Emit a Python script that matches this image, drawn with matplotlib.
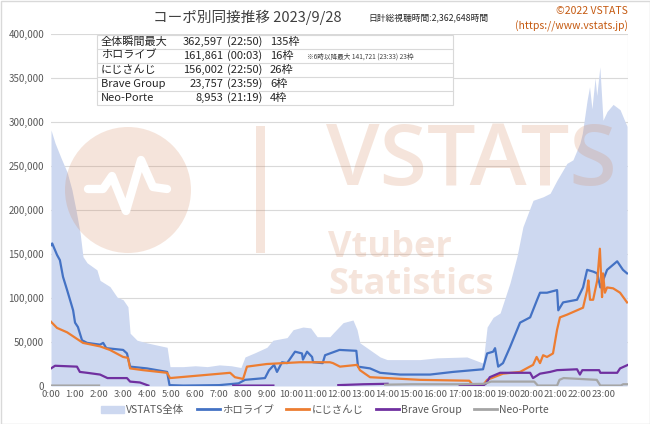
import numpy as np
import matplotlib
matplotlib.use('Agg')
import matplotlib.pyplot as plt
from matplotlib.patches import Circle, Rectangle, Patch
from matplotlib.lines import Line2D
from matplotlib.ticker import FuncFormatter

plt.rcParams['font.family'] = ['Noto Sans CJK JP', 'DejaVu Sans']

nan = np.nan

# VSTATS total (hours, thousands of viewers)
total_t = [0.00, 0.17, 0.42, 0.67, 0.87, 1.04, 1.21, 1.33, 1.50, 1.91, 2.04, 2.45, 2.75, 3.00, 3.20,
           3.29, 3.58, 3.99, 4.83, 4.95, 5.50, 6.00, 6.50, 7.00, 7.50, 7.90, 8.07, 8.50, 8.98, 9.23,
           9.82, 10.07, 10.48, 10.80, 11.07, 11.60, 11.73, 12.15, 12.56, 12.73, 12.85, 13.27, 13.69,
           13.98, 15.35, 16.06, 17.30, 17.97, 18.14, 18.39, 18.68, 19.09, 19.38, 19.63, 20.05, 20.47,
           20.76, 21.05, 21.46, 21.71, 22.00, 22.10, 22.30, 22.40, 22.50, 22.63, 22.70, 22.83, 22.96,
           23.13, 23.38, 23.67, 23.96]
total_v = [291, 276, 259, 243, 223, 200, 174, 147, 140, 132, 120, 113, 101, 98, 90,
           60, 52, 49, 44, 22, 22, 23, 22, 24, 23, 21, 33, 38, 44, 52,
           55, 64, 67, 66, 56, 56, 60, 72, 75, 64, 49, 41, 33,
           30, 30, 32, 33, 26, 67, 78, 83, 117, 147, 181, 211, 215,
           219, 234, 253, 257, 276, 287, 325, 340, 315, 350, 330, 362.6, 302,
           312, 320, 314, 295]

holo_t = [0.00, 0.05, 0.25, 0.37, 0.50, 0.67, 0.79, 0.92, 1.00, 1.12, 1.29, 1.50, 2.04, 2.17, 2.30,
          3.00, 3.16, 3.29, 3.99, 4.41, 4.83, 4.93, 5.50, 7.00, 7.80, 8.07, 8.90, 9.07, 9.28, 9.40,
          9.61, 9.82, 10.15, 10.44, 10.48, 10.65, 10.86, 10.90, 11.30, 11.40, 11.60, 12.00, 12.70,
          12.77, 13.27, 13.69, 14.52, 15.77, 16.72, 17.97, 18.14, 18.39, 18.47, 18.60, 18.80, 19.09,
          19.51, 19.93, 20.22, 20.34, 20.63, 21.05, 21.10, 21.30, 21.88, 22.13, 22.30, 22.55, 22.72,
          22.85, 23.13, 23.55, 23.79, 23.96]
holo_v = [160, 162, 149, 143, 124, 109, 98, 86, 72, 67, 52, 49, 47, 49, 43,
          41, 37, 22, 20, 18, 16, 1, 0.5, 1, 3, 7, 9, 18, 24, 16,
          27, 26, 39, 37, 30, 39, 33, 27, 26, 35, 37, 41, 40,
          22, 20, 15, 13, 13, 16, 19, 37, 39, 43, 22, 26, 44,
          72, 78, 98, 106, 106, 109, 86, 95, 98, 112, 132, 130, 128,
          112, 132, 141.7, 132, 128]

niji_t = [0.00, 0.25, 0.67, 1.00, 1.33, 2.04, 2.45, 3.00, 3.20, 3.29, 3.83, 4.83, 4.95, 6.20, 7.45,
          7.65, 7.99, 8.15, 8.98, 10.35, 11.60, 11.73, 12.02, 12.73, 12.85, 13.27, 13.98, 15.35,
          17.40, 17.55, 17.97, 18.14, 18.80, 19.51, 20.05, 20.20, 20.34, 20.47, 20.63, 20.88, 21.05,
          21.17, 21.46, 21.88, 22.13, 22.30, 22.35, 22.42, 22.55, 22.72, 22.83, 22.92, 22.96, 23.04,
          23.13, 23.38, 23.67, 23.96]
niji_v = [73, 66, 61, 55, 49, 45, 41, 33, 32, 20, 18, 15, 9, 12, 15,
          10, 8, 22, 25, 27, 27, 26, 22, 24, 18, 10, 9, 7,
          6, 1, 1, 7, 14, 16, 24, 33, 26, 35, 33, 37, 64,
          78, 81, 86, 89, 109, 120, 98, 98, 120, 156, 101, 128, 106,
          112, 111, 106, 95]

brave_t = [0.00, 0.17, 1.08, 1.20, 1.50, 2.04, 2.35, 3.16, 3.29, 3.70, 4.05, 4.10,
           7.58, 9.25, 9.30, 11.95, 13.00, 14.00, 14.05, 17.00, 18.00, 18.10, 18.25, 18.68,
           19.93, 20.05, 20.34, 20.76, 21.05, 21.88, 22.00, 22.10, 22.80, 22.85, 23.55, 23.67, 23.98]
brave_v = [20, 23, 22, 16, 15, 13, 9, 9, 5, 4, 0.5, nan,
           0.5, 0.5, nan, 1, 2, 2.5, nan, 0.5, 1, 3, 10, 15,
           15, 9, 14, 16, 18, 19, 13, 18, 18, 15, 15, 20, 23.8]

neo_t = [0.00, 2.00, 2.05, 13.90, 15.00, 17.00, 18.00, 18.14, 18.30, 20.10, 20.25, 21.05, 21.15,
         21.32, 22.70, 22.85, 23.70, 23.80, 23.98]
neo_v = [0.5, 0.5, nan, 1.5, 2, 2, 2.5, 3.5, 5, 5, 0.5, 0.5, 7,
         9.0, 7, 0.5, 0.5, 2, 2]

tick_labels = ['%d:00' % h for h in range(24)]

table_names = ['全体瞬間最大', 'ホロライブ', 'にじさんじ', 'Brave Group', 'Neo-Porte']
table_peaks = ['362,597', '161,861', '156,002', '23,757', '8,953']
table_times = ['(22:50)', '(00:03)', '(22:50)', '(23:59)', '(21:19)']
table_counts = ['135枠', '16枠', '26枠', '6枠', '4枠']

fig = plt.figure(figsize=(6.5, 4.24), dpi=100)
ax = fig.add_axes([51 / 650, 1 - 386 / 424, 577 / 650, 352 / 424])

ax.fill_between(total_t, np.array(total_v) * 1000, color='#cdd8f0', lw=0, zorder=1)
ax.plot(holo_t, np.array(holo_v) * 1000, color='#4472c4', lw=1.6, zorder=3)
ax.plot(niji_t, np.array(niji_v) * 1000, color='#ed7d31', lw=1.6, zorder=3)
ax.plot(brave_t, np.array(brave_v) * 1000, color='#7030a0', lw=1.6, zorder=3)
ax.plot(neo_t, np.array(neo_v) * 1000, color='#a5a5a5', lw=1.6, zorder=3)

ax.set_xlim(0, 24)
ax.set_ylim(0, 400000)
ax.set_xticks(range(24))
ax.set_xticklabels(tick_labels, fontsize=6.8, color='#595959')
ax.set_xticks(range(25), minor=True)
ax.set_yticks(range(0, 400001, 50000))
ax.yaxis.set_major_formatter(FuncFormatter(lambda v, p: f'{int(v):,}'))
ax.tick_params(axis='y', labelsize=7, colors='#595959', length=0, pad=5)
ax.tick_params(axis='x', length=0, pad=3, which='both')
ax.grid(True, which='minor', axis='x', color='#d9d9d9', lw=0.8, zorder=0)
ax.grid(True, which='major', axis='y', color='#d9d9d9', lw=0.8, zorder=0)
ax.set_axisbelow(True)
for s in ax.spines.values():
    s.set_visible(False)

# overlay in pixel coordinates
ov = fig.add_axes([0, 0, 1, 1], zorder=5)
ov.set_xlim(0, 650)
ov.set_ylim(424, 0)
ov.axis('off')
ov.patch.set_alpha(0)

ov.add_patch(Rectangle((0.5, 0.5), 649, 423, fill=False, ec='#d9d9d9', lw=1))

wm = '#d38357'
wa = 0.21
ov.add_patch(Circle((128, 190), 63, color=wm, alpha=wa, lw=0))
ov.plot([88, 103, 112, 126, 141, 153, 167], [189, 189, 176, 211, 160, 187, 189],
        color='white', lw=6, solid_capstyle='round', solid_joinstyle='round')
ov.add_patch(Rectangle((256, 126), 9, 127, color=wm, alpha=wa, lw=0))
ov.text(326, 185, 'VSTATS', fontsize=62, family='Open Sans', weight='semibold',
        color=wm, alpha=wa, va='baseline')
ov.text(328, 257, 'Vtuber', fontsize=26, family='Open Sans', weight='bold',
        color=wm, alpha=wa, va='baseline')
ov.text(328, 294, 'Statistics', fontsize=26, family='Open Sans', weight='bold',
        color=wm, alpha=wa, va='baseline')

# summary table
ov.add_patch(Rectangle((97, 35), 356, 70, fc='white', ec='#d9d9d9', lw=0.8))
for i in range(5):
    yc = 42 + i * 14
    if i > 0:
        ov.plot([97, 453], [35 + i * 14, 35 + i * 14], color='#d9d9d9', lw=0.8)
    ov.text(101, yc, table_names[i], fontsize=8, color='#262626', va='center')
    ov.text(223, yc, table_peaks[i], fontsize=8, color='#262626', va='center', ha='right')
    ov.text(227, yc, table_times[i], fontsize=8, color='#262626', va='center')
    ov.text(270, yc, table_counts[i], fontsize=8, color='#262626', va='center')
ov.text(307, 57, '※6時以降最大 141,721 (23:33) 23枠', fontsize=4.8, color='#404040', va='center')

ov.text(247, 17, 'コーポ別同接推移 2023/9/28', fontsize=10.5, color='#404040', ha='center', va='center')
ov.text(368, 18, '日計総視聴時間:2,362,648時間', fontsize=6.3, color='#262626', va='center')
ov.text(628, 11, '©2022 VSTATS', fontsize=7.5, color='#c55a11', ha='right', va='center')
ov.text(628, 26, '(https://www.vstats.jp)', fontsize=7.5, color='#c55a11', ha='right', va='center')

handles = [Patch(color='#cdd8f0'),
           Line2D([], [], color='#4472c4', lw=2),
           Line2D([], [], color='#ed7d31', lw=2),
           Line2D([], [], color='#7030a0', lw=2),
           Line2D([], [], color='#a5a5a5', lw=2)]
leg = fig.legend(handles, ['VSTATS全体', 'ホロライブ', 'にじさんじ', 'Brave Group', 'Neo-Porte'],
                 loc='center', bbox_to_anchor=(0.5, 1 - 410 / 424), ncol=5, frameon=False,
                 fontsize=7.5, handlelength=2.2, handletextpad=0.2, columnspacing=1.2,
                 labelcolor='#595959')

fig.savefig('out.png', dpi=100)
